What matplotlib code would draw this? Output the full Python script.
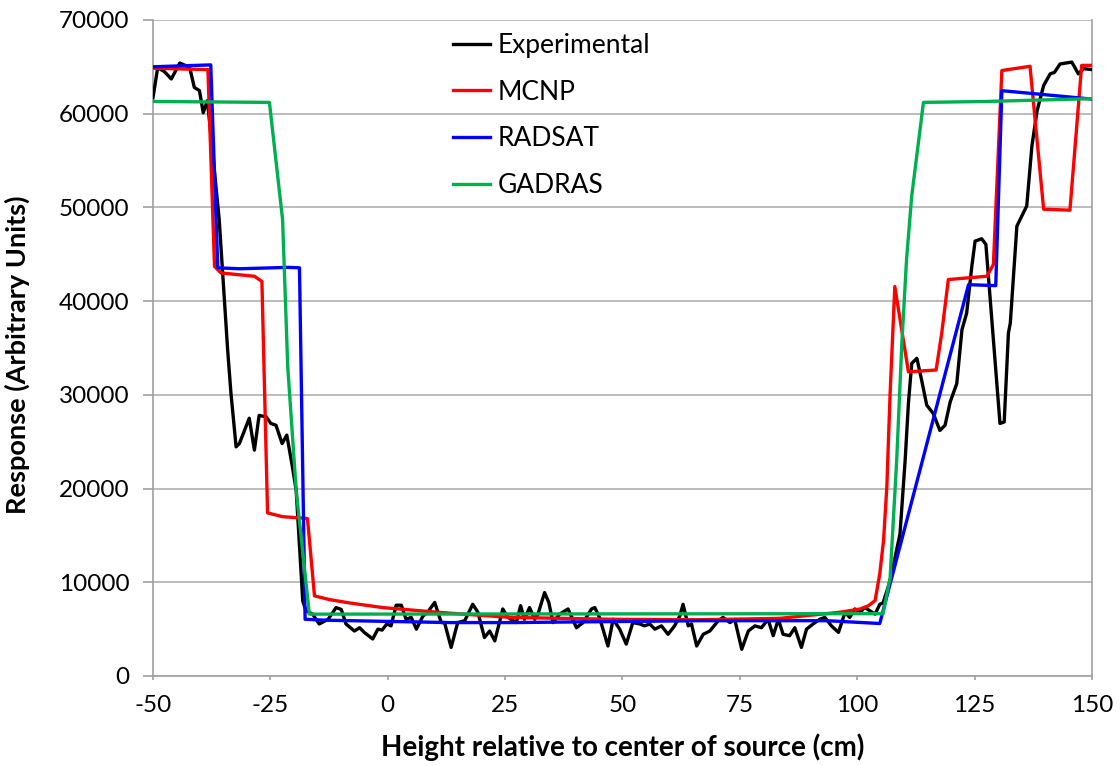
import matplotlib
matplotlib.use("Agg")
import matplotlib.pyplot as plt

plt.rcParams['font.family'] = ['Lato', 'DejaVu Sans']

# Measured detector response
exp_x = [-50.0, -49.0, -47.6, -46.1, -44.3, -42.2, -41.2, -40.1, -39.3, -38.4,
         -35.9, -35.2, -34.1, -33.4, -32.3, -31.6, -29.5, -28.4, -27.4, -25.9,
         -24.9, -23.8, -22.5, -21.5, -20.3, -19.5, -18.1, -17.4, -16.0, -14.6,
         -12.7, -11.0, -9.9, -8.9, -7.1, -6.0, -5.0, -3.2, -2.1, -1.2,
         -0.2, 0.7, 1.8, 2.9, 3.9, 5.0, 6.1, 7.5, 8.5, 10.0,
         11.4, 12.1, 13.5, 14.9, 16.4, 18.1, 19.2, 20.6, 21.7, 22.8,
         24.5, 25.6, 27.4, 28.3, 29.1, 30.2, 31.3, 32.0, 33.4, 34.3,
         35.2, 36.6, 38.4, 40.2, 41.6, 43.4, 44.1, 45.1, 46.9, 48.0,
         49.4, 50.8, 52.2, 53.7, 54.7, 55.8, 56.9, 58.3, 59.7, 61.1,
         62.2, 62.9, 64.0, 64.7, 65.8, 67.2, 68.6, 70.4, 71.4, 72.9,
         73.9, 75.4, 76.8, 78.2, 79.6, 81.0, 82.1, 83.2, 84.2, 85.6,
         86.7, 88.1, 89.2, 90.6, 92.0, 93.1, 94.5, 96.0, 97.4, 98.4,
         99.5, 100.6, 101.6, 102.7, 103.8, 104.8, 105.5, 107.0, 109.1, 110.2,
         110.9, 111.6, 112.7, 113.7, 114.8, 116.2, 117.6, 118.7, 119.8, 121.2,
         122.3, 123.3, 124.4, 125.1, 126.5, 127.4, 129.0, 130.4, 131.3, 132.2,
         132.6, 134.0, 136.1, 137.2, 138.3, 139.7, 141.1, 142.0, 143.2, 145.7,
         147.1, 148.2, 150.0]
exp_y = [61700, 64900, 64500, 63700, 65400, 64950, 62800, 62450, 60100, 61400,
         48700, 43350, 34800, 30200, 24450, 24800, 27500, 24100, 27800, 27650,
         26950, 26750, 24800, 25700, 22300, 19800, 8000, 6950, 6600, 5550,
         6050, 7300, 7100, 5550, 4800, 5150, 4650, 3950, 5000, 4900,
         5550, 5350, 7550, 7550, 6050, 6250, 5000, 6400, 6800, 7850,
         5700, 5700, 3050, 5700, 5900, 7650, 6800, 4100, 4800, 3750,
         7150, 6250, 5700, 7500, 6050, 7300, 6050, 6600, 8900, 7850,
         5700, 6600, 7150, 5150, 5700, 7150, 7300, 6250, 3200, 6050,
         5000, 3400, 5700, 5550, 5350, 5550, 5000, 5350, 4450, 5350,
         6400, 7650, 5350, 5550, 3200, 4450, 4800, 5900, 6250, 5700,
         6050, 2850, 4800, 5350, 5150, 6050, 4300, 6050, 4450, 4300,
         5150, 3050, 5000, 5550, 6050, 6250, 5350, 4650, 6800, 6250,
         7150, 6800, 7300, 6950, 6600, 7650, 7800, 10150, 15150, 23000,
         29100, 33350, 33900, 31600, 28900, 28000, 26200, 26750, 29250, 31200,
         36950, 38700, 43700, 46400, 46650, 46050, 35900, 26950, 27100, 36600,
         37650, 48000, 50150, 56550, 60300, 63000, 64250, 64400, 65300, 65500,
         64250, 64800, 64700]

# MCNP simulation
mcnp_x = [-50.0, -38.3, -36.9, -35.5, -28.4, -26.8, -25.6, -22.4, -17.1, -15.6,
          -12.4, -8.2, -1.1, 2.5, 8.2, 13.2, 26.3, 48.0, 66.4, 83.5,
          96.3, 100.6, 102.4, 103.8, 104.8, 105.6, 106.3, 107.0, 108.0, 110.9,
          116.8, 118.0, 119.4, 127.6, 129.0, 130.8, 136.8, 139.7, 145.3, 147.8,
          150.0]
mcnp_y = [64850, 64700, 43700, 43000, 42650, 42100, 17400, 17000, 16800, 8550,
          8150, 7800, 7300, 7150, 6900, 6700, 6250, 6050, 6000, 6150,
          6800, 7150, 7500, 8050, 10900, 14450, 20150, 30150, 41550, 32450,
          32650, 36600, 42300, 42650, 43900, 64600, 65050, 49800, 49700, 65150,
          65150]

# RADSAT simulation
radsat_x = [-50.0, -37.7, -36.2, -31.6, -24.5, -21.3, -18.8, -17.6, -13.1, 13.1,
            26.7, 66.5, 93.5, 104.8, 105.5, 123.7, 129.5, 130.8, 138.3, 150.0]
radsat_y = [65000, 65200, 43550, 43450, 43550, 43600, 43550, 6050, 5950, 5700,
            5700, 5900, 5900, 5600, 6950, 41750, 41650, 62450, 62100, 61550]

# GADRAS simulation
gadras_x = [-50.0, -25.2, -22.4, -21.3, -19.5, -16.7, 105.5, 107.0, 108.4, 109.5,
            110.5, 111.6, 114.1, 127.6, 150.0]
gadras_y = [61300, 61200, 48700, 33000, 19800, 6600, 6650, 10500, 23000, 35500,
            44450, 51200, 61200, 61300, 61600]

x_ticks = [-50, -25, 0, 25, 50, 75, 100, 125, 150]
y_ticks = [0, 10000, 20000, 30000, 40000, 50000, 60000, 70000]

fig = plt.figure(figsize=(11.2, 7.66), dpi=100)
ax = fig.add_axes([0.1366, 0.1175, 0.8384, 0.8565])

lw = 2.4
ax.plot(exp_x, exp_y, color='black', lw=lw, label='Experimental', zorder=3)
ax.plot(mcnp_x, mcnp_y, color='#FF0000', lw=lw, label='MCNP', zorder=4)
ax.plot(radsat_x, radsat_y, color='#0000FF', lw=lw, label='RADSAT', zorder=5)
ax.plot(gadras_x, gadras_y, color='#00B050', lw=lw, label='GADRAS', zorder=6)

ax.set_xlim(-50, 150)
ax.set_ylim(0, 70000)
ax.set_xticks(x_ticks)
ax.set_yticks(y_ticks)
ax.set_xticklabels([str(v) for v in x_ticks])
ax.set_yticklabels([str(v) for v in y_ticks])
ax.tick_params(axis='both', labelsize=17.5, color='#A0A0A0', width=1.2)
ax.tick_params(axis='x', length=3, pad=10.5)
ax.tick_params(axis='y', length=7, pad=10)

ax.yaxis.grid(True, color='#B0B0B0', lw=1.2)
ax.set_axisbelow(True)
for side in ['left', 'bottom', 'right']:
    ax.spines[side].set_color('#A0A0A0')
    ax.spines[side].set_linewidth(1.2)
ax.spines['top'].set_visible(False)

ax.set_xlabel('Height relative to center of source (cm)', fontsize=20,
              fontweight='bold')
ax.set_ylabel('Response (Arbitrary Units)', fontsize=19.5, fontweight='bold')
ax.xaxis.set_label_coords(0.5, -0.087)
ax.yaxis.set_label_coords(-0.131, 0.49)

ax.legend(loc='upper left', bbox_to_anchor=(0.311, 0.992), frameon=False,
          fontsize=19, handlelength=1.4, handletextpad=0.28, labelspacing=0.82,
          borderpad=0.3, borderaxespad=0)

fig.savefig('out.png', dpi=100)
